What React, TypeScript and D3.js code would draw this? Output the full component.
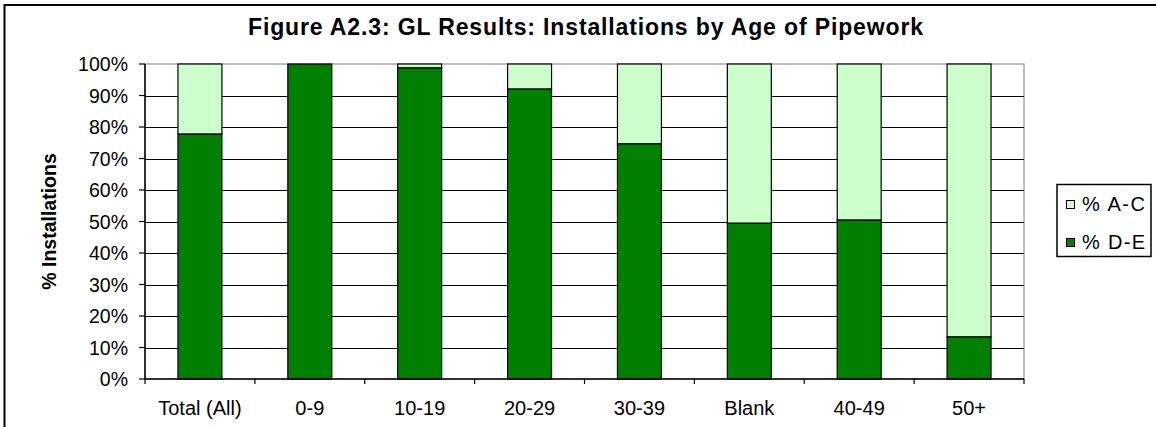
import React from "react";
import * as d3 from "d3";

// Age-of-pipework groups and the share of installations in each result band
const categories = ["Total (All)", "0-9", "10-19", "20-29", "30-39", "Blank", "40-49", "50+"];
const pctDE = [77.8, 100, 98.8, 92.1, 74.7, 49.5, 50.5, 13.4];
const pctAC = pctDE.map((v) => 100 - v);
const yTicks = [0, 10, 20, 30, 40, 50, 60, 70, 80, 90, 100];
const seriesNames = ["% A-C", "% D-E"];
const seriesColors = ["#CCFFCC", "#008000"];

const W = 1156;
const H = 427;
const plot = { left: 145, right: 1024, top: 64, bottom: 379 };
const FONT = "Arial, 'Liberation Sans', sans-serif";

export default function App() {
  const x = d3
    .scaleBand<string>()
    .domain(categories)
    .range([plot.left, plot.right])
    .paddingInner(0.6)
    .paddingOuter(0.3);
  const y = d3.scaleLinear().domain([0, 100]).range([plot.bottom, plot.top]);

  const rows = categories.map((c, i) => ({ c, de: pctDE[i], ac: pctAC[i] }));
  const stack = d3.stack<any>().keys(["de", "ac"])(rows as any);
  const step = x.step();
  const boundaries = d3.range(categories.length + 1).map((i) => plot.left + i * step);

  return (
    <svg
      width={W}
      height={H}
      style={{ position: "absolute", left: 0, top: 0, background: "#fff" }}
      fontFamily={FONT}
    >
      <rect x={0} y={0} width={W} height={H} fill="#fff" />
      {/* chart frame */}
      <rect x={4.5} y={5} width={W + 10} height={H + 10} fill="none" stroke="#000" strokeWidth={2} />

      <text
        x={585.5}
        y={35}
        textAnchor="middle"
        fontWeight="bold"
        fontSize={23}
        textLength={675}
        lengthAdjust="spacing"
        fill="#000"
      >
        Figure A2.3: GL Results: Installations by Age of Pipework
      </text>

      {/* plot area */}
      <rect
        x={plot.left}
        y={plot.top}
        width={plot.right - plot.left}
        height={plot.bottom - plot.top}
        fill="#fff"
        stroke="#808080"
        strokeWidth={1}
      />
      {yTicks
        .filter((t) => t > 0 && t < 100)
        .map((t) => (
          <line
            key={"g" + t}
            x1={plot.left}
            x2={plot.right}
            y1={Math.round(y(t)) + 0.5}
            y2={Math.round(y(t)) + 0.5}
            stroke="#000"
            strokeWidth={1.2}
          />
        ))}

      {/* stacked bars */}
      {stack.map((layer, li) => (
        <g key={"s" + li}>
          {layer.map((d, i) => {
            const y0 = y(d[0]);
            const y1 = y(d[1]);
            if (Math.abs(y0 - y1) < 0.01) return null;
            return (
              <rect
                key={i}
                x={x(categories[i])!}
                y={y1}
                width={x.bandwidth()}
                height={y0 - y1}
                fill={seriesColors[1 - li]}
                stroke="#000"
                strokeWidth={1.2}
              />
            );
          })}
        </g>
      ))}

      {/* y axis */}
      <line x1={plot.left} x2={plot.left} y1={plot.top} y2={plot.bottom} stroke="#000" strokeWidth={1.5} />
      {yTicks.map((t) => (
        <g key={"yt" + t}>
          <line x1={plot.left - 6} x2={plot.left} y1={y(t)} y2={y(t)} stroke="#000" strokeWidth={1.2} />
          <text x={128} y={y(t)} dy="0.36em" textAnchor="end" fontSize={19.5} fill="#000">
            {t}%
          </text>
        </g>
      ))}

      {/* x axis */}
      <line x1={plot.left} x2={plot.right} y1={plot.bottom} y2={plot.bottom} stroke="#000" strokeWidth={1.5} />
      {boundaries.map((bx, i) => (
        <line key={"xt" + i} x1={bx} x2={bx} y1={plot.bottom} y2={plot.bottom + 5} stroke="#000" strokeWidth={1.2} />
      ))}
      {categories.map((c) => (
        <text key={c} x={x(c)! + x.bandwidth() / 2} y={415} textAnchor="middle" fontSize={20} fill="#000">
          {c}
        </text>
      ))}

      <text
        transform={`translate(56, ${(plot.top + plot.bottom) / 2}) rotate(-90)`}
        textAnchor="middle"
        fontWeight="bold"
        fontSize={19.5}
        fill="#000"
      >
        % Installations
      </text>

      {/* legend */}
      <rect x={1057} y={184.5} width={94} height={72} fill="#fff" stroke="#000" strokeWidth={1.5} />
      {seriesNames.map((n, i) => (
        <g key={n} transform={`translate(0, ${i * 38})`}>
          <rect x={1066.5} y={200.5} width={8} height={8} fill={seriesColors[i]} stroke="#000" strokeWidth={1} />
          <text x={1082} y={211} fontSize={20} textLength={63} lengthAdjust="spacing" fill="#000">
            {n}
          </text>
        </g>
      ))}
    </svg>
  );
}
